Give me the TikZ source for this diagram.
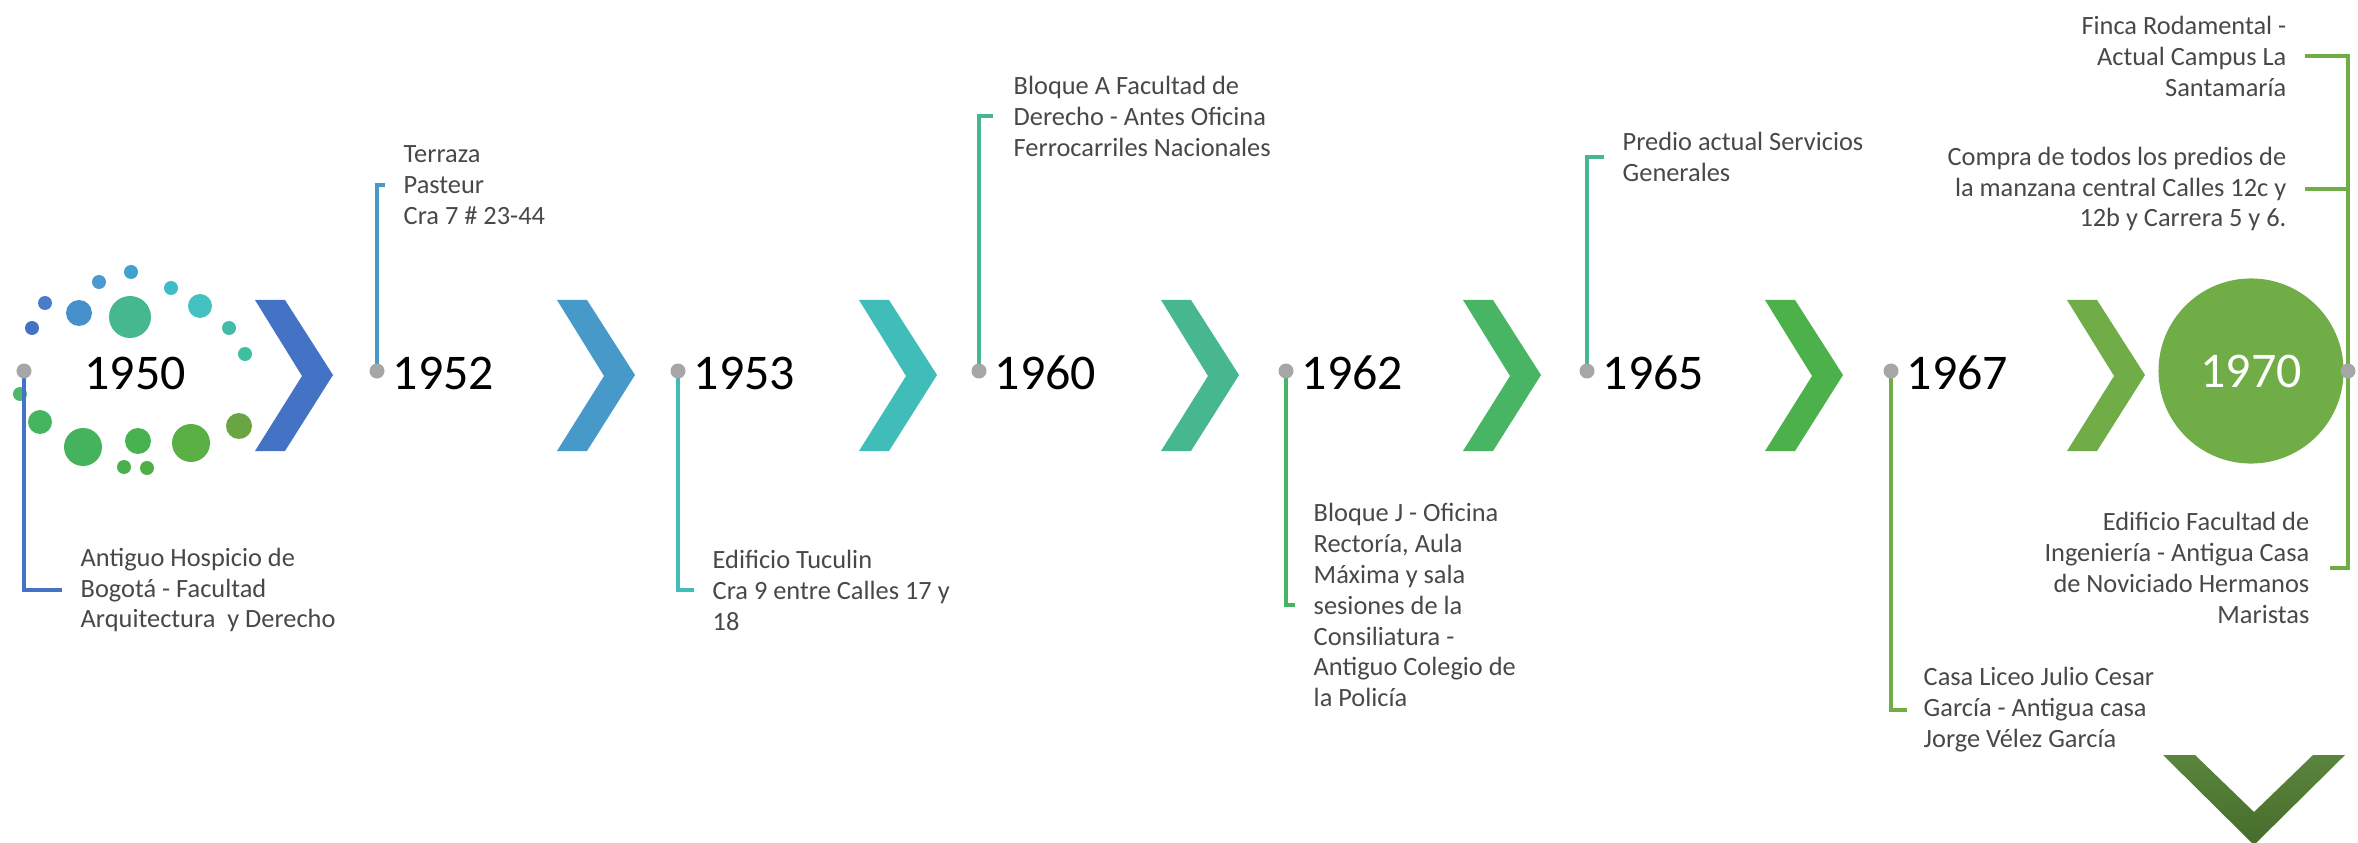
\documentclass[tikz,border=0pt]{standalone}
\usepackage{fontspec}
\setmainfont{Carlito}
\usepackage{xcolor}
\usetikzlibrary{positioning}

\definecolor{azul}{HTML}{4472C4}
\definecolor{acero}{HTML}{4699C8}
\definecolor{turquesa}{HTML}{40BDB8}
\definecolor{aguamar}{HTML}{46B78F}
\definecolor{verdeA}{HTML}{48B564}
\definecolor{verdeB}{HTML}{4CB14B}
\definecolor{oliva}{HTML}{70AD47}
\definecolor{musgo}{HTML}{527F33}
\definecolor{punto}{HTML}{A6A6A6}
\definecolor{texto}{HTML}{484848}

\begin{document}
\begin{tikzpicture}[x=0.01cm, y=-0.01cm,
		anio/.style={inner sep=0pt, font=\fontsize{14.2pt}{17pt}\selectfont},
		desc/.style={inner sep=0pt, text=texto, font=\fontsize{7.5pt}{8.8pt}\selectfont},
		hito/.style={circle, fill=punto, inner sep=0pt, minimum size=0.15cm},
		link/.style={line width=0.035cm}]
			\useasboundingbox (0,0) rectangle (2358,843);
			
			\foreach \cx/\cy/\r/\col in {32/328/7/4472C4, 45/303/7/4A7DC9, 79/313/13/4690CC, 99/282/7/4A9AD0,
				131/272/7/3FA3CD, 130/317/21/45B88E, 171/288/7/40BCC8, 200/306/12/44C1C0, 229/328/7/42BCA8,
				245/354/7/3DBFA0, 20/394/7/4DB868, 40/422/12/45B55F, 83/447/19/45B35E, 138/441/13/47B24F,
				124/467/7/4BAF4F, 147/468/7/4DAE45, 191/443/19/5AAF45, 239/426/13/6AA543}
				{\definecolor{burbuja}{HTML}{\col}
				\fill[burbuja] (\cx,\cy) circle[radius=\r*0.01cm];}
			
			\foreach \x/\col in {255/azul, 557/acero, 859/turquesa, 1161/aguamar, 1463/verdeA, 1765/verdeB, 2067/oliva}
				\fill[\col] (\x,300) -- ++(30,0) -- ++(48,75) -- ++(-48,76) -- ++(-30,0) -- ++(47,-75) -- cycle;
			
			\shade[top color=musgo!95!white, bottom color=musgo!85!black]
				(2163,755) -- (2195,755) -- (2254,812) -- (2313,755) -- (2345,755) -- (2254,845) -- cycle;
			
			\node[anio] (a1950) at (135,373) {1950};
			\foreach \x/\yr in {377/1952, 678/1953, 979/1960, 1286/1962, 1587/1965, 1891/1967}
				\node[anio, anchor=west] (a\yr) at (\x+15,373) {\yr};
			\node[circle, fill=oliva, minimum size=1.85cm, inner sep=0pt, text=white,
				font=\fontsize{14.2pt}{17pt}\selectfont] (c1970) at (2251,371) {1970};
			
			\node[desc, anchor=west, align=left] (t1950) at (80,590) {Antiguo Hospicio de\\Bogotá - Facultad\\Arquitectura~ y Derecho};
			\node[desc, anchor=west, align=left] (t1952) at (403,185) {Terraza\\Pasteur\\Cra 7 \# 23-44};
			\node[desc, anchor=west, align=left] (t1953) at (712,590) {Edificio Tuculin\\Cra 9 entre Calles 17 y\\18};
			\node[desc, anchor=west, align=left] (t1960) at (1013,116) {Bloque A Facultad de\\Derecho - Antes Oficina\\Ferrocarriles Nacionales};
			\node[desc, anchor=west, align=left] (t1962) at (1313,605) {Bloque J - Oficina\\Rectoría, Aula\\Máxima y sala\\sesiones de la\\Consiliatura -\\Antiguo Colegio de\\la Policía};
			\node[desc, anchor=west, align=left] (t1965) at (1622,157) {Predio actual Servicios\\Generales};
			\node[desc, anchor=west, align=left] (t1967) at (1923,710) {Casa Liceo Julio Cesar\\García - Antigua casa\\Jorge Vélez García};
			\node[desc, anchor=east, align=right] (finca) at (2287,56) {Finca Rodamental -\\Actual Campus La\\Santamaría};
			\node[desc, anchor=east, align=right] (compra) at (2287,189) {Compra de todos los predios de\\la manzana central Calles 12c y\\12b y Carrera 5 y 6.};
			\node[desc, anchor=east, align=right] (ingen) at (2310,568) {Edificio Facultad de\\Ingeniería - Antigua Casa\\de Noviciado Hermanos\\Maristas};
			
			\draw[link, azul] (24,371) |- ([xshift=-0.18cm]t1950.west);
			\draw[link, acero] (377,371) |- ([xshift=-0.18cm]t1952.west);
			\draw[link, turquesa] (678,371) |- ([xshift=-0.18cm]t1953.west);
			\draw[link, aguamar] (979,371) |- ([xshift=-0.2cm]t1960.west);
			\draw[link, verdeA] (1286,371) |- ([xshift=-0.18cm]t1962.west);
			\draw[link, aguamar] (1587,371) |- ([xshift=-0.18cm]t1965.west);
			\draw[link, oliva] (1891,371) |- ([xshift=-0.16cm]t1967.west);
			\draw[link, oliva] ([xshift=0.18cm]finca.east) -| (2348,371);
			\draw[link, oliva] ([xshift=0.18cm]compra.east) -| (2348,371);
			\draw[link, oliva] ([xshift=0.2cm]ingen.east) -| (2348,371);
			
			\foreach \x/\yr in {24/1950, 377/1952, 678/1953, 979/1960, 1286/1962, 1587/1965, 1891/1967, 2348/1970}
				\node[hito] (d\yr) at (\x,371) {};
		\end{tikzpicture}
\end{document}
